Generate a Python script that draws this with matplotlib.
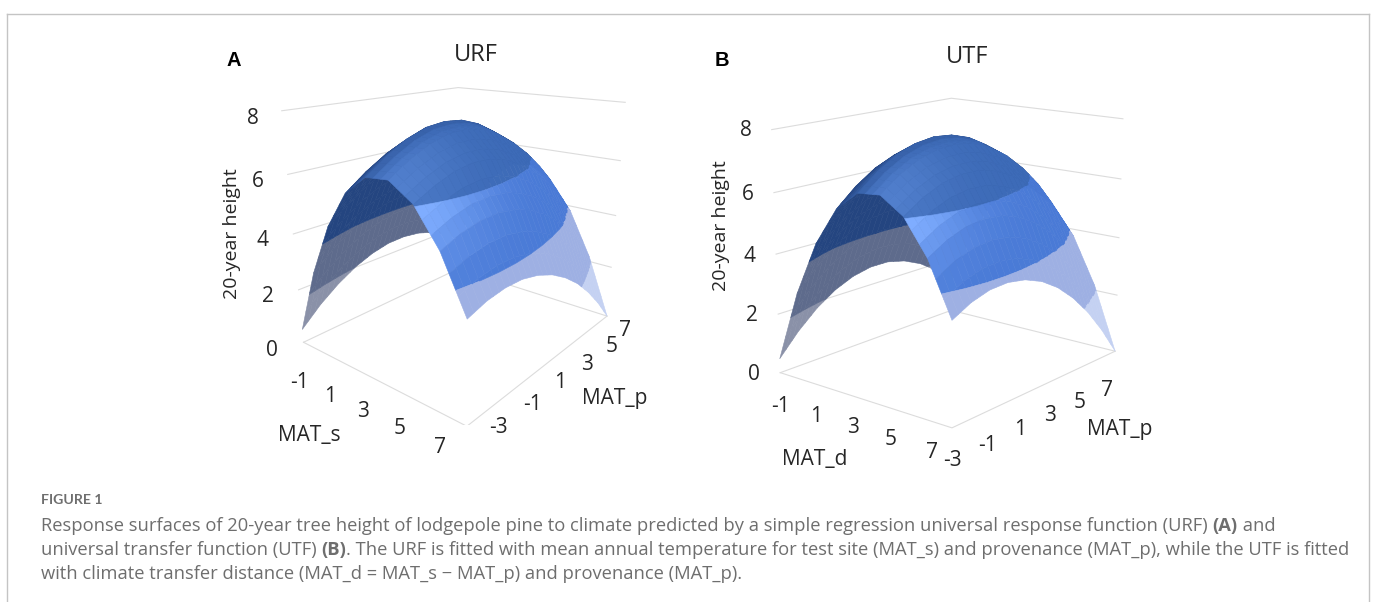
import numpy as np
import matplotlib
matplotlib.use("Agg")
import matplotlib.pyplot as plt
from matplotlib.lines import Line2D
from mpl_toolkits.mplot3d.art3d import Poly3DCollection

W, H = 1375, 602

# eixos das superficies
mat_x = [-1, 0, 1, 2, 3, 4, 5, 6, 7]
mat_p = [-3, -2, -1, 0, 1, 2, 3, 4, 5, 6, 7]
bands = [0, 2, 4, 6, 8]

# altura: uma linha por valor de MAT_s / MAT_d, colunas = MAT_p
urf_height = [
    [0.50, 1.13, 1.63, 2.02, 2.29, 2.45, 2.48, 2.40, 2.20, 1.88, 1.44],
    [2.86, 3.43, 3.89, 4.22, 4.44, 4.54, 4.52, 4.39, 4.13, 3.76, 3.27],
    [4.64, 5.16, 5.60, 5.90, 6.08, 6.12, 6.03, 5.82, 5.49, 5.06, 4.52],
    [5.86, 6.35, 6.75, 7.02, 7.16, 7.14, 6.99, 6.70, 6.30, 5.81, 5.21],
    [6.49, 6.95, 7.32, 7.55, 7.62, 7.56, 7.34, 6.98, 6.52, 5.96, 5.31],
    [6.56, 6.97, 7.28, 7.46, 7.48, 7.35, 7.07, 6.66, 6.16, 5.55, 4.85],
    [6.05, 6.38, 6.62, 6.72, 6.68, 6.50, 6.18, 5.75, 5.20, 4.56, 3.81],
    [4.96, 5.21, 5.35, 5.37, 5.27, 5.05, 4.71, 4.26, 3.69, 3.00, 2.19],
    [3.30, 3.50, 3.58, 3.55, 3.39, 3.12, 2.73, 2.23, 1.60, 0.86, 0.00],
]
utf_height = [
    [0.48, 1.20, 1.78, 2.21, 2.49, 2.63, 2.63, 2.48, 2.19, 1.75, 1.17],
    [2.86, 3.53, 4.06, 4.44, 4.67, 4.76, 4.71, 4.51, 4.17, 3.68, 3.05],
    [4.64, 5.26, 5.74, 6.07, 6.25, 6.29, 6.19, 5.94, 5.55, 5.01, 4.33],
    [5.86, 6.43, 6.86, 7.14, 7.28, 7.27, 7.12, 6.82, 6.38, 5.79, 5.06],
    [6.49, 7.01, 7.39, 7.62, 7.71, 7.65, 7.45, 7.10, 6.61, 5.97, 5.19],
    [6.56, 7.03, 7.36, 7.54, 7.58, 7.47, 7.22, 6.82, 6.28, 5.60, 4.76],
    [6.05, 6.47, 6.75, 6.88, 6.87, 6.71, 6.41, 5.96, 5.37, 4.64, 3.75],
    [4.96, 5.33, 5.56, 5.64, 5.58, 5.37, 5.02, 4.52, 3.88, 3.10, 2.17],
    [3.29, 3.61, 3.79, 3.82, 3.71, 3.46, 3.06, 2.51, 1.82, 0.98, 0.00],
]

z_ticks = ["0", "2", "4", "6", "8"]
x_ticks = ["-1", "1", "3", "5", "7"]
p_ticks = ["-3", "-1", "1", "3", "5", "7"]

# cores das faixas: lado de fora e lado de baixo da superficie
outer_rgb = [(0.77, 0.82, 0.95), (0.62, 0.69, 0.89), (0.29, 0.48, 0.84), (0.24, 0.42, 0.72)]
inner_rgb = [(0.54, 0.57, 0.66), (0.37, 0.42, 0.55), (0.14, 0.27, 0.50), (0.17, 0.28, 0.49)]
bright = np.array([0.50, 0.68, 1.0])
navy = np.array([0.15, 0.28, 0.52])
SUB = 3


def clip_band(poly, lo, hi):
    # corta um poligono 3D pela faixa lo <= z <= hi
    for level, sign in ((lo, 1), (hi, -1)):
        out = []
        for i in range(len(poly)):
            a, b = poly[i], poly[(i + 1) % len(poly)]
            da, db = sign * (a[2] - level), sign * (b[2] - level)
            if da >= 0:
                out.append(a)
            if da * db < 0:
                out.append(a + (b - a) * da / (da - db))
        poly = out
        if len(poly) < 3:
            return []
    return poly


def cell_quads(c00, c10, c11, c01):
    # divide a celula so para a cor variar sem degraus
    def at(u, v):
        return (c00 * (1 - u) * (1 - v) + c10 * u * (1 - v) + c11 * u * v + c01 * (1 - u) * v)
    t = np.linspace(0, 1, SUB + 1)
    for a in range(SUB):
        for b in range(SUB):
            yield [at(t[a], t[b]), at(t[a + 1], t[b]), at(t[a + 1], t[b + 1]), at(t[a], t[b + 1])]


def draw_surface(rect_px, x_vals, p_vals, height, box, elev, azim, focal):
    left, top, size = rect_px
    ax = fig.add_axes([left / W, 1 - (top + size) / H, size / W, size / H],
                      projection="3d")
    ax.set_axis_off()
    ax.patch.set_alpha(0)
    ax.computed_zorder = False
    ax.view_init(elev=elev, azim=azim, roll=0)
    ax.set_proj_type("persp", focal_length=focal)
    ax.set_box_aspect(box)
    ax.set_xlim(x_vals[0], x_vals[-1], view_margin=0)
    ax.set_ylim(p_vals[0], p_vals[-1], view_margin=0)
    ax.set_zlim(0, 8, view_margin=0)

    # paredes e chao
    x0, x1, p0, p1 = x_vals[0], x_vals[-1], p_vals[0], p_vals[-1]
    for z in bands:
        ax.plot([x0, x0, x1], [p0, p1, p1], [z, z, z], color="#dcdcdc", lw=0.8, zorder=1)
    ax.plot([x0, x1, x1], [p0, p0, p1], [0, 0, 0], color="#dcdcdc", lw=0.8, zorder=1)

    # escala para coordenadas do mundo, para saber de que lado se ve cada face
    norm = 1.8294640721620434 * 25 / 24 / np.linalg.norm(box)
    scale = np.array([box[0] / (x1 - x0), box[1] / (p1 - p0), box[2] / 8]) * norm
    e, a = np.radians(elev), np.radians(azim)
    eye = 10 * focal * np.array([np.cos(e) * np.cos(a), np.cos(e) * np.sin(a), np.sin(e)])
    mid = np.array([(x0 + x1) / 2, (p0 + p1) / 2, 4])

    polys, colors = [], []
    Z = np.array(height, float)
    for i in range(len(x_vals) - 1):
        for j in range(len(p_vals) - 1):
            c00 = np.array([x_vals[i], p_vals[j], Z[i, j]], float)
            c10 = np.array([x_vals[i + 1], p_vals[j], Z[i + 1, j]], float)
            c11 = np.array([x_vals[i + 1], p_vals[j + 1], Z[i + 1, j + 1]], float)
            c01 = np.array([x_vals[i], p_vals[j + 1], Z[i, j + 1]], float)
            for quad in cell_quads(c00, c10, c11, c01):
                w = [(q - mid) * scale for q in quad]
                n = np.cross(w[2] - w[0], w[3] - w[1])
                view = eye - (w[0] + w[2]) / 2
                facing = float(n @ view)
                cx, cp, _ = (quad[0] + quad[2]) / 2
                for b in range(4):
                    piece = clip_band(quad, bands[b], bands[b + 1])
                    if not piece:
                        continue
                    if facing >= 0:
                        rgb = np.array(outer_rgb[b])
                        if b >= 2:
                            # brilho junto ao arco da frente, sombra para a esquerda
                            glow = np.exp(-((cx - 5.2) / 0.9) ** 2 - ((cp - p0) / 3.0) ** 2)
                            if b == 3:
                                glow = 0.3 * np.exp(-((cx - 4.4) / 1.0) ** 2 - ((cp - p0) / 2.6) ** 2)
                            shade = np.clip((3.6 - cx) / 1.6, 0, 1)
                            rgb = rgb * (1 - glow) + bright * glow
                            rgb = rgb * (1 - shade) + navy * shade
                    else:
                        rgb = np.array(inner_rgb[b])
                    polys.append(np.array(piece))
                    colors.append(tuple(rgb))
    surf = Poly3DCollection(polys, facecolors=colors, edgecolors=colors,
                            linewidths=0.4, zorder=2)
    ax.add_collection3d(surf)
    return ax


def label(x, y, s, size=15, **kw):
    return fig.text(x / W, 1 - y / H, s, fontsize=size, ha=kw.pop("ha", "center"),
                    va=kw.pop("va", "center"), family=kw.pop("family", "Open Sans"),
                    color=kw.pop("color", "#262626"), **kw)


fig = plt.figure(figsize=(W / 100, H / 100), dpi=100)

draw_surface((261.4, 34.6, 390), mat_x, mat_p, urf_height, (0.683, 0.795, 0.75), 18.7, -50.8, 0.2888)
draw_surface((739, 44.3, 414), mat_x, mat_p, utf_height, (0.49, 0.59, 0.54), 14.7, -50.4, 0.584)

# textos do painel A
for s, x, y in zip(z_ticks, [272.3, 268, 262.7, 258, 252.7], [350, 296.7, 241, 181.7, 118.3]):
    label(x, y, s)
for s, x, y in zip(x_ticks, [299.3, 330, 363, 399.3, 440], [382.7, 396, 411.7, 429, 447.3]):
    label(x, y, s)
for s, x, y in zip(p_ticks, [498.3, 532.7, 560, 587, 611.7, 625], [427.3, 404, 382.7, 364, 346.7, 331]):
    label(x, y, s)
label(309, 435, "MAT_s")
label(615, 398.3, "MAT_p")
label(231.7, 233.3, "20-year height", size=14, rotation=90)
label(476, 55.3, "URF", size=17)
label(234, 60.7, "A", size=14.5, family="Liberation Sans", weight="bold", color="black")

# textos do painel B
for s, x, y in zip(z_ticks, [753.7, 751.7, 749.7, 748, 745.7], [375, 315.7, 256, 194, 131]):
    label(x, y, s)
for s, x, y in zip(x_ticks, [780.3, 815.7, 852.7, 891, 931.7], [406.7, 416.7, 427.7, 439.3, 452]):
    label(x, y, s)
for s, x, y in zip(p_ticks, [952.7, 987.3, 1020, 1050.3, 1079.7, 1107.3], [460.7, 445.7, 429.3, 415.7, 402.7, 390]):
    label(x, y, s)
label(815, 459.3, "MAT_d")
label(1119.3, 429.3, "MAT_p")
label(720.7, 226, "20-year height", size=14, rotation=90)
label(967.3, 57.3, "UTF", size=17)
label(722.3, 60.7, "B", size=14.5, family="Liberation Sans", weight="bold", color="black")

# moldura
for xs, ys in (([7, 7], [602, 14]), ([7, 1369], [14, 14]), ([1369, 1369], [14, 602])):
    fig.add_artist(Line2D([x / W for x in xs], [1 - y / H for y in ys], color="#c4c4c4", lw=1))

# legenda
cap = "#6e6e6e"
label(41, 500, "FIGURE 1", size=10.2, ha="left", family="Lato", color=cap, weight="bold")
renderer = fig.canvas.get_renderer()
lines = [
    (526, ["Response surfaces of 20-year tree height of lodgepole pine to climate predicted by a simple regression universal response function (URF) ",
           "*(A)", " and"]),
    (550, ["universal transfer function (UTF) ", "*(B)",
           ". The URF is fitted with mean annual temperature for test site (MAT_s) and provenance (MAT_p), while the UTF is fitted"]),
    (574, ["with climate transfer distance (MAT_d = MAT_s \u2212 MAT_p) and provenance (MAT_p)."]),
]
for y, parts in lines:
    x = 41
    for part in parts:
        bold = part.startswith("*")
        t = label(x, y, part.lstrip("*"), size=13.2, ha="left", family="Open Sans", color=cap,
                  weight="bold" if bold else "normal")
        x += t.get_window_extent(renderer).width

fig.savefig("out.png", dpi=100, facecolor="white")
